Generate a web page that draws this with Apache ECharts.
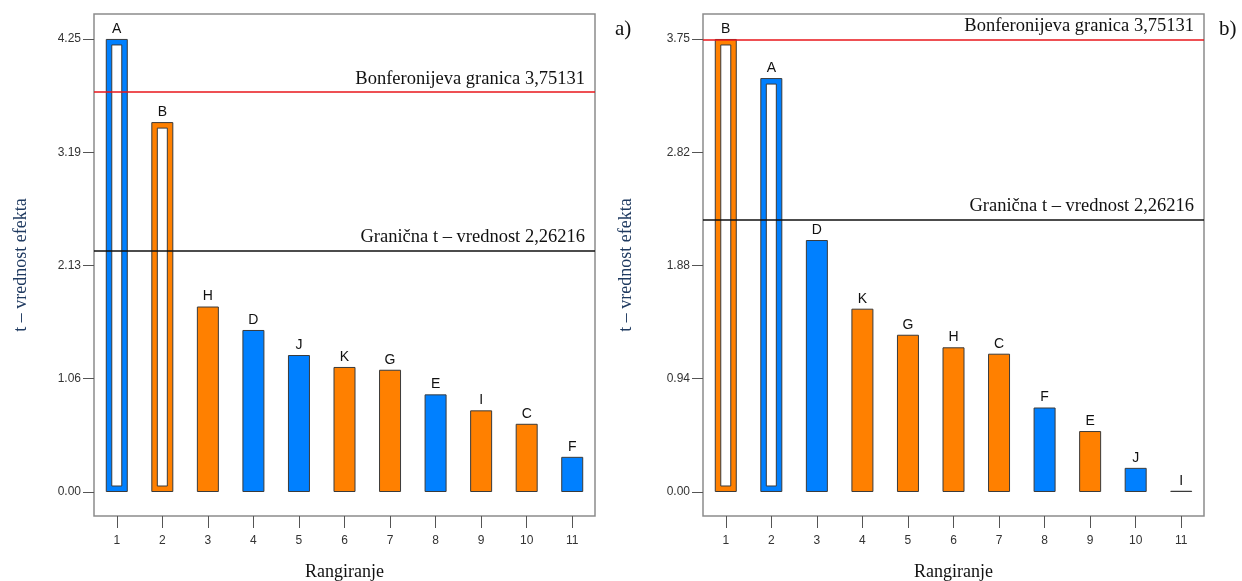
<!DOCTYPE html>
<html>
<head>
<meta charset="utf-8">
<script src="https://cdn.jsdelivr.net/npm/echarts@6/dist/echarts.min.js"></script>
<style>
  html, body { margin: 0; padding: 0; background: #fff; }
  #chart { width: 1242px; height: 581px; }
</style>
</head>
<body>
<div id="chart"></div>
<script>
// rangovi na x osi
const ranks = ['1', '2', '3', '4', '5', '6', '7', '8', '9', '10', '11'];

// a) levi grafik
const lettersA = ['A', 'B', 'H', 'D', 'J', 'K', 'G', 'E', 'I', 'C', 'F'];
const valuesA = [4.25, 3.47, 1.74, 1.52, 1.285, 1.173, 1.147, 0.916, 0.766, 0.64, 0.33];
const groupsA = ['p', 'n', 'n', 'p', 'p', 'n', 'n', 'p', 'n', 'n', 'p'];
const hollowA = [true, true, false, false, false, false, false, false, false, false, false];
const ticksA = [0, 1.0625, 2.125, 3.1875, 4.25];
const tickLabelsA = ['0.00', '1.06', '2.13', '3.19', '4.25'];

// b) desni grafik
const lettersB = ['B', 'A', 'D', 'K', 'G', 'H', 'C', 'F', 'E', 'J', 'I'];
const valuesB = [3.754, 3.43, 2.088, 1.519, 1.303, 1.199, 1.146, 0.70, 0.505, 0.20, 0.01];
const groupsB = ['n', 'p', 'p', 'n', 'n', 'n', 'n', 'p', 'n', 'p', 'n'];
const hollowB = [true, true, false, false, false, false, false, false, false, false, false];
const ticksB = [0, 0.9385, 1.877, 2.8155, 3.754];
const tickLabelsB = ['0.00', '0.94', '1.88', '2.82', '3.75'];

// granice
const bonferroni = 3.75131;
const tLimit = 2.26216;

const colors = { p: '#0080ff', n: '#ff8000' };
const BAR_W = 22;
const RIM = 6;
const serif = '"Liberation Serif", "Times New Roman", serif';
const sans = '"Liberation Sans", Arial, sans-serif';

const chart = echarts.init(document.getElementById('chart'));

const makeX = (gridIndex) => ({
  type: 'category',
  gridIndex,
  data: ranks,
  axisLine: { show: false, onZero: false },
  axisTick: { show: true, length: 12, alignWithLabel: true, lineStyle: { color: '#555', width: 1 } },
  axisLabel: { color: '#333', fontFamily: sans, fontSize: 12, margin: 19 },
  name: 'Rangiranje',
  nameLocation: 'middle',
  nameGap: 47,
  nameTextStyle: { fontFamily: serif, fontSize: 18, color: '#111' }
});

const makeY = (gridIndex, min, max, ticks, labels, gap) => ({
  type: 'value',
  gridIndex,
  min,
  max,
  splitLine: { show: false },
  axisLine: { show: false },
  axisTick: { show: true, length: 11, customValues: ticks, lineStyle: { color: '#555' } },
  axisLabel: {
    customValues: ticks,
    color: '#333',
    fontFamily: sans,
    fontSize: 12,
    margin: 13,
    formatter: (v) => {
      const i = ticks.findIndex(t => Math.abs(t - v) < 1e-6);
      return i >= 0 ? labels[i] : '';
    }
  },
  name: 't – vrednost efekta',
  nameLocation: 'middle',
  nameRotate: 90,
  nameGap: gap,
  nameTextStyle: { fontFamily: serif, fontSize: 18, color: '#1f3a60' }
});

const limitLines = {
  symbol: 'none',
  silent: true,
  label: {
    position: 'insideEndTop',
    distance: [10, 4],
    fontFamily: serif,
    fontSize: 18.5,
    color: '#111'
  },
  data: [
    { yAxis: bonferroni, lineStyle: { color: '#e8161b', width: 1.5, type: 'solid' },
      label: { formatter: 'Bonferonijeva granica 3,75131' } },
    { yAxis: tLimit, lineStyle: { color: '#111', width: 1.5, type: 'solid' },
      label: { formatter: 'Granična t – vrednost 2,26216' } }
  ]
};

const barSeries = (idx, values, letters, groups) => ({
  type: 'bar',
  xAxisIndex: idx,
  yAxisIndex: idx,
  barWidth: BAR_W,
  data: values.map((v, i) => ({
    value: v,
    itemStyle: { color: colors[groups[i]] }
  })),
  itemStyle: { borderColor: '#3a3a3a', borderWidth: 1 },
  label: {
    show: true,
    position: 'top',
    distance: 3,
    fontFamily: sans,
    fontSize: 14,
    color: '#111',
    formatter: (p) => letters[p.dataIndex]
  },
  markLine: limitLines,
  z: 2
});

// unutrasnji beli pravougaonik za "suplje" stubice
const hollowSeries = (idx, values, hollow) => ({
  type: 'custom',
  xAxisIndex: idx,
  yAxisIndex: idx,
  data: values.map((v, i) => [i, v]).filter((d, i) => hollow[i]),
  renderItem: (params, api) => {
    const top = api.coord([api.value(0), api.value(1)]);
    const base = api.coord([api.value(0), 0]);
    return {
      type: 'rect',
      shape: {
        x: top[0] - BAR_W / 2 + RIM,
        y: top[1] + RIM,
        width: BAR_W - 2 * RIM,
        height: base[1] - top[1] - 2 * RIM
      },
      style: { fill: '#fff', stroke: '#3a3a3a', lineWidth: 1 }
    };
  },
  z: 3
});

const gridBox = {
  show: true,
  borderColor: '#8c8c8c',
  borderWidth: 1.5,
  backgroundColor: '#fff',
  top: 14,
  height: 502,
  width: 501,
  outerBoundsMode: 'none',
  containLabel: false
};

chart.setOption({
  animation: false,
  title: [
    { text: 'a)', left: 610, top: 14, textStyle: { fontFamily: serif, fontSize: 21, fontWeight: 'normal', color: '#111' } },
    { text: 'b)', left: 1214, top: 14, textStyle: { fontFamily: serif, fontSize: 21, fontWeight: 'normal', color: '#111' } }
  ],
  grid: [
    { ...gridBox, left: 94 },
    { ...gridBox, left: 703 }
  ],
  xAxis: [makeX(0), makeX(1)],
  yAxis: [
    makeY(0, -0.225, 4.484, ticksA, tickLabelsA, 64),
    makeY(1, -0.199, 3.961, ticksB, tickLabelsB, 68)
  ],
  series: [
    barSeries(0, valuesA, lettersA, groupsA),
    hollowSeries(0, valuesA, hollowA),
    barSeries(1, valuesB, lettersB, groupsB),
    hollowSeries(1, valuesB, hollowB)
  ]
});
</script>
</body>
</html>
